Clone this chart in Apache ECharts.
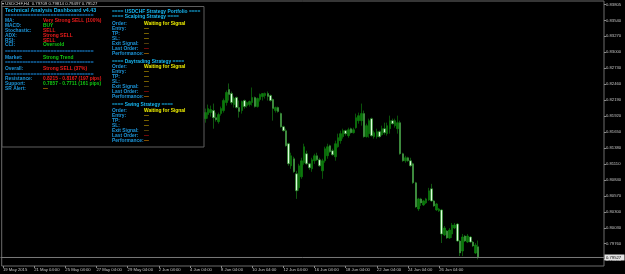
<!DOCTYPE html>
<html>
<head>
<meta charset="utf-8">
<script src="https://cdn.jsdelivr.net/npm/echarts@6/dist/echarts.min.js"></script>
<style>
html,body{margin:0;padding:0;background:#000;}
#chart{width:625px;height:274px;}
</style>
</head>
<body>
<div id="chart"></div>
<script>
// ---------------- data ----------------
const symbolHeader = 'USDCHF,H4  0.79709 0.79814 0.79497 0.79527';
const tickLabels = ['19 May 2015','21 May 04:00','25 May 04:00','27 May 04:00','29 May 04:00','2 Jun 04:00','4 Jun 04:00','8 Jun 04:00','10 Jun 04:00','12 Jun 04:00','16 Jun 04:00','18 Jun 04:00','22 Jun 04:00','24 Jun 04:00','26 Jun 04:00','30 Jun 04:00'];
const barsPerLabel = 12;
const totalSlots = 232;           // bar slots incl. empty right margin
const firstVisibleBar = 78;       // earlier bars are hidden behind the dashboard panel
const priceTicks = [0.83805,0.83540,0.83270,0.83000,0.82730,0.82460,0.82190,0.81920,0.81650,0.81380,0.81110,0.80840,0.80570,0.80300,0.80030,0.79760,0.79490];
const priceMin = 0.79383, priceMax = 0.83868;
const bidPrice = 0.79527;
// [open, close, low, high]
const candles = [
[0.81877,0.81979,0.81809,0.82047],[0.81945,0.82047,0.81877,0.82115],[0.81979,0.82030,0.81911,0.82098],[0.82013,0.81894,0.81707,0.82132],
[0.81894,0.81860,0.81826,0.81979],[0.81826,0.81945,0.81792,0.81979],[0.81962,0.82047,0.81928,0.82081],[0.82013,0.82183,0.81979,0.82217],
[0.82149,0.82319,0.82098,0.82353],[0.82370,0.82285,0.82183,0.82472],[0.82302,0.82149,0.82115,0.82336],[0.82115,0.82217,0.82064,0.82251],
[0.82234,0.82064,0.82047,0.82251],[0.82064,0.81996,0.81894,0.82183],[0.82013,0.82166,0.81962,0.82183],[0.82183,0.82081,0.82047,0.82200],
[0.82098,0.82149,0.82064,0.82166],[0.82115,0.82166,0.82081,0.82183],[0.82149,0.82234,0.82098,0.82404],[0.82234,0.82081,0.82064,0.82251],
[0.82081,0.82217,0.82064,0.82234],[0.82200,0.82285,0.82166,0.82302],[0.82251,0.82302,0.82183,0.82302],[0.82268,0.82302,0.82217,0.82319],
[0.82302,0.82251,0.82183,0.82336],[0.82268,0.82183,0.82166,0.82285],[0.82200,0.82047,0.81843,0.82217],[0.82013,0.82064,0.81979,0.82081],
[0.82064,0.81996,0.81979,0.82081],[0.81962,0.81741,0.81724,0.81979],[0.81741,0.81674,0.81657,0.81758],[0.81674,0.81419,0.81402,0.81707],
[0.81453,0.81113,0.81079,0.81470],[0.81079,0.81249,0.81028,0.81300],[0.81198,0.80977,0.80960,0.81232],[0.80943,0.80655,0.80519,0.80994],
[0.80706,0.81079,0.80655,0.81113],[0.80892,0.81164,0.80858,0.81215],[0.81130,0.81402,0.81096,0.81453],[0.81283,0.81113,0.81096,0.81334],
[0.81113,0.81045,0.81011,0.81130],[0.81028,0.81181,0.80977,0.81215],[0.81164,0.81249,0.81113,0.81283],[0.81249,0.81181,0.81164,0.81300],
[0.81181,0.81079,0.81062,0.81215],[0.80994,0.81164,0.80858,0.81198],[0.81164,0.81368,0.81130,0.81402],[0.81249,0.81402,0.81198,0.81453],
[0.81419,0.81317,0.81300,0.81436],[0.81334,0.81266,0.81249,0.81368],[0.81232,0.81453,0.81164,0.81504],[0.81402,0.81555,0.81385,0.81623],
[0.81504,0.81623,0.81453,0.81674],[0.81572,0.81674,0.81538,0.81707],[0.81674,0.81623,0.81589,0.81690],[0.81589,0.81690,0.81555,0.81724],
[0.81707,0.81640,0.81623,0.81724],[0.81640,0.81690,0.81623,0.81724],[0.81724,0.81894,0.81707,0.81962],[0.81843,0.81928,0.81792,0.81979],
[0.81843,0.81962,0.81758,0.82132],[0.81962,0.81572,0.81555,0.82013],[0.81572,0.81758,0.81555,0.81792],[0.81623,0.81843,0.81555,0.81877],
[0.81877,0.81589,0.81572,0.81894],[0.81572,0.81640,0.81538,0.81674],[0.81572,0.81657,0.81538,0.81707],[0.81657,0.81572,0.81555,0.81674],
[0.81606,0.81707,0.81589,0.81758],[0.81707,0.81640,0.81606,0.81809],[0.81623,0.81758,0.81589,0.81809],[0.81707,0.81843,0.81623,0.81928],
[0.81843,0.81792,0.81775,0.81877],[0.81758,0.81843,0.81724,0.81877],[0.81707,0.81809,0.81623,0.81928],[0.81809,0.81283,0.81266,0.81843],
[0.81283,0.81164,0.81147,0.81300],[0.81164,0.81215,0.81130,0.81249],[0.81215,0.81164,0.81147,0.81232],[0.81164,0.81079,0.81062,0.81215],
[0.81113,0.80790,0.80773,0.81130],[0.80790,0.80383,0.80366,0.80807],[0.80349,0.80519,0.80315,0.80536],[0.80519,0.80451,0.80400,0.80536],
[0.80417,0.80485,0.80400,0.80502],[0.80451,0.80519,0.80434,0.80536],[0.80502,0.80655,0.80485,0.80706],[0.80689,0.80485,0.80468,0.80773],
[0.80485,0.80400,0.80383,0.80502],[0.80332,0.80434,0.80315,0.80451],[0.80315,0.80349,0.80298,0.80366],[0.80332,0.79925,0.79772,0.80349],
[0.79908,0.80026,0.79891,0.80060],[0.79976,0.79857,0.79840,0.79992],[0.79857,0.79992,0.79840,0.80026],[0.79925,0.80077,0.79857,0.80111],
[0.80026,0.80077,0.80009,0.80111],[0.80094,0.79806,0.79789,0.80111],[0.79806,0.79602,0.79551,0.79823],[0.79636,0.79874,0.79551,0.79925],
[0.79891,0.79806,0.79789,0.79908],[0.79789,0.79891,0.79772,0.79925],[0.79874,0.79789,0.79772,0.79891],[0.79789,0.79721,0.79704,0.79806],
[0.79602,0.79738,0.79585,0.79772],[0.79709,0.79527,0.79497,0.79814]
];

// dashboard texts
const dashTitle = 'Technical Analysis Dashboard v4.43';
const techRows = [['MA:','Very Strong SELL (100%)','red'],['MACD:','BUY','green'],['Stochastic:','SELL','red'],['ADX:','Strong SELL','red'],['RSI:','SELL','red'],['CCI:','Oversold','green']];
const marketRow = ['Market:','Strong Trend','green'];
const overallRow = ['Overall:','Strong SELL (37%)','red'];
const srRows = [['Resistance:','0.8215 - 0.8167 (197 pips)','red'],['Support:','0.7857 - 0.7711 (161 pips)','green'],['SR Alert:','\u2014','orange']];
const portfolioTitle = '==== USDCHF Strategy Portfolio ====';
const strategies = ['Scalping Strategy','Daytrading Strategy','Swing Strategy'];
const strategyRows = [['Order:','Waiting for Signal','yellow'],['Entry:','\u2014','olive'],['TP:','\u2014','olive'],['SL:','\u2014','olive'],['Exit Signal:','\u2014','brown'],['Last Order:','\u2014','dred'],['Performance:','\u2014','orange']];

// ---------------- styles / layout ----------------
const COL = {red:'#f01c1c', green:'#12c812', yellow:'#f0f000', olive:'#c8a000', brown:'#8a6a10', dred:'#c81010', orange:'#e08800'};
const LABEL_COL = '#1d97dc', TITLE_COL = '#16b8f4', SEP_COL = '#1a90e8';
const FONT = '"Liberation Sans", Arial, sans-serif';
const bodyFont = 'bold 4.9px ' + FONT;
const titleFont = 'bold 5.3px ' + FONT;
const sepText = '='.repeat(31);
const GRID = {left:0.5, right:21, top:1, bottom:8};
const W = 625, H = 274;

const g = [];
function txt(x, y, s, fill, font) {
  g.push({type:'text', x:x, y:y, z:101, silent:true,
    style:{text:s, fill:fill, font:font || bodyFont, verticalAlign:'middle', align:'left'}});
}
// panel
g.push({type:'rect', z:100, silent:true, shape:{x:2, y:6.5, width:202, height:140.5},
  style:{fill:'#000', stroke:'#5e5e5e', lineWidth:1}});
// header
txt(2, 3.6, '\u25BE ' + symbolHeader, '#d8d8d8', '4.3px ' + FONT);

// left column
const LX = 5, VX = 43;
txt(LX, 11, dashTitle, TITLE_COL, titleFont);
txt(LX, 16, sepText, SEP_COL);
techRows.forEach((r, k) => { const y = 20.8 + k * 4.85; txt(LX, y, r[0], LABEL_COL); txt(VX, y, r[1], COL[r[2]]); });
txt(LX, 52, sepText, SEP_COL);
txt(LX, 57.3, marketRow[0], LABEL_COL); txt(VX, 57.3, marketRow[1], COL[marketRow[2]]);
txt(LX, 63, sepText, SEP_COL);
txt(LX, 68.2, overallRow[0], LABEL_COL); txt(VX, 68.2, overallRow[1], COL[overallRow[2]]);
txt(LX, 74.2, sepText, SEP_COL);
srRows.forEach((r, k) => { const y = 79 + k * 4.75; txt(LX, y, r[0], LABEL_COL); txt(VX, y, r[1], COL[r[2]]); });

// right column
const RX = 112, RVX = 144;
txt(RX, 11.3, portfolioTitle, TITLE_COL);
const blockHead = [16.7, 61.7, 105];
const blockFirst = [23.7, 67, 110.7];
strategies.forEach((s, b) => {
  txt(RX, blockHead[b], '==== ' + s + ' ====', TITLE_COL);
  strategyRows.forEach((r, k) => { const y = blockFirst[b] + k * 4.92; txt(RX, y, r[0], LABEL_COL); txt(RVX, y, r[1], COL[r[2]]); });
});

// ---------------- chart ----------------
const categories = Array.from({length: totalSlots}, (_, i) => String(i));
const seriesData = candles.map((c, k) => [firstVisibleBar + k, c[0], c[1], c[2], c[3]]);
const showTick = (i) => i % barsPerLabel === 0 && (i / barsPerLabel) < tickLabels.length;

const chart = echarts.init(document.getElementById('chart'), null, {renderer:'canvas'});
chart.setOption({
  backgroundColor:'#000',
  animation:false,
  grid:Object.assign({show:true, borderColor:'#6c6c6c', borderWidth:1, backgroundColor:'#000'}, GRID),
  xAxis:{
    type:'category', data:categories, boundaryGap:true,
    axisLine:{show:false},
    axisTick:{show:true, interval:(i) => showTick(i), alignWithLabel:true, length:2, lineStyle:{color:'#8a8a8a'}},
    axisLabel:{interval:(i) => showTick(i), formatter:(v, i) => tickLabels[Math.round(i / barsPerLabel)],
      align:'left', color:'#c4c4c4', fontSize:4.2, fontFamily:'Liberation Sans', margin:2, showMaxLabel:false},
    splitLine:{show:false}
  },
  yAxis:{
    type:'value', position:'right', min:priceMin, max:priceMax,
    splitLine:{show:false}, axisLine:{show:false},
    axisTick:{show:true, customValues:priceTicks, length:2, lineStyle:{color:'#8a8a8a'}},
    axisLabel:{customValues:priceTicks, formatter:(v) => v.toFixed(5), color:'#c4c4c4', fontSize:4.2, fontFamily:'Liberation Sans', margin:2}
  },
  series:[{
    type:'candlestick', data:seriesData, encode:{x:0, y:[1,2,3,4]},
    barWidth:2,
    itemStyle:{color:'#0b7a0b', color0:'#dcffdc', borderColor:'#0f8a0f', borderColor0:'#1c8e1c', borderWidth:0.6}
  }],
  graphic:g
});

// bid line + price box, positioned with the y axis scale
const bidY = chart.convertToPixel({yAxisIndex:0}, bidPrice);
const plotRight = W - GRID.right;
chart.setOption({graphic: g.concat([
  {type:'line', z:50, silent:true, shape:{x1:GRID.left, y1:bidY, x2:plotRight, y2:bidY}, style:{stroke:'#7a7a7a', lineWidth:1}},
  {type:'rect', z:51, silent:true, shape:{x:plotRight + 0.5, y:bidY - 3, width:W - plotRight - 1, height:6}, style:{fill:'#e4e4e4'}},
  {type:'text', z:52, silent:true, x:plotRight + 2, y:bidY, style:{text:bidPrice.toFixed(5), fill:'#000', font:'4.2px "Liberation Sans"', verticalAlign:'middle', align:'left'}}
])});
</script>
</body>
</html>
